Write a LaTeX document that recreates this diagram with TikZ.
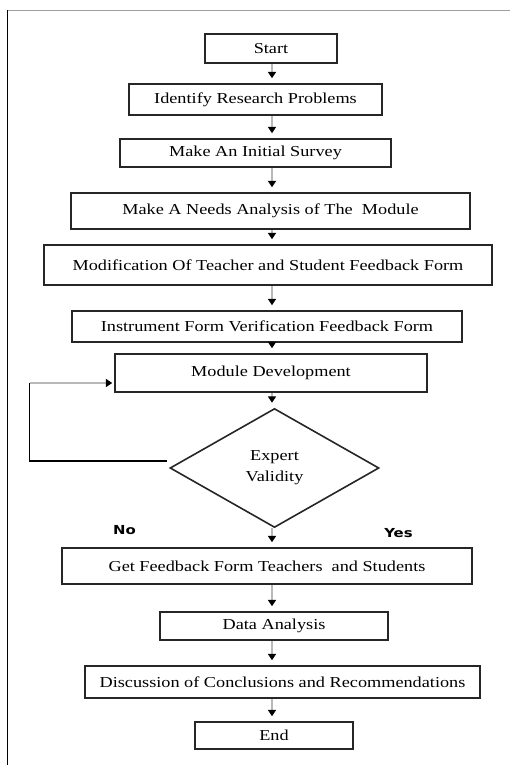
\documentclass[tikz,border=0pt]{standalone}
\usepackage{fontspec}
\setmainfont[FakeStretch=1.2]{Liberation Serif}
\newfontfamily\answerfont[FakeStretch=1.2]{DejaVu Sans}
\usetikzlibrary{shapes.geometric, arrows.meta, calc}

\begin{document}
\begin{tikzpicture}[x=0.5pt, y=-0.5pt,
    stepbox/.style={draw=black!85, line width=0.8pt, inner sep=0pt, font=\fontsize{7.6}{9}\selectfont},
    flow/.style={draw=gray!55, line width=0.8pt, -{Triangle[width=4pt, length=3.2pt, color=black]}, shorten >=2.5pt},
    answer/.style={font=\answerfont\bfseries\fontsize{6.2}{7}\selectfont}]
    \useasboundingbox (0,0) rectangle (510,765);

    % frame
    \draw[gray!75, line width=0.9pt] (7.5,10.5) -- (510,10.5);
    \draw[line width=0.9pt] (7.5,10.5) -- (7.5,765);

    % steps
    \node[stepbox, minimum width=66pt, minimum height=14.5pt] (start) at (271,48.5) {Start};
    \node[stepbox, minimum width=126.5pt, minimum height=15.5pt] (ident) at (255.5,99.5) {Identify Research Problems};
    \node[stepbox, minimum width=135.5pt, minimum height=14pt] (survey) at (255.5,153) {Make An Initial Survey};
    \node[stepbox, minimum width=199.5pt, minimum height=18pt] (needs) at (270.5,211) {Make A Needs Analysis of The~ Module};
    \node[stepbox, minimum width=224pt, minimum height=20pt] (modify) at (268,265) {Modification Of Teacher and Student Feedback Form};
    \node[stepbox, minimum width=195pt, minimum height=15.5pt] (instr) at (267,326.5) {Instrument Form Verification Feedback Form};
    \node[stepbox, minimum width=156pt, minimum height=19pt] (dev) at (271,373) {Module Development};

    % decision
    \node[stepbox, diamond, minimum width=104.5pt, minimum height=59.5pt, align=center,
          font=\fontsize{7.6}{10.5}\selectfont] (valid) at (274.5,468) {Expert\\Validity};
    \node[answer] (no) at (124.5,530.5) {No};
    \node[answer] (yes) at (398.5,533) {Yes};

    \node[stepbox, minimum width=205pt, minimum height=18pt] (getfb) at (267,566) {Get Feedback Form Teachers~ and Students};
    \node[stepbox, minimum width=114pt, minimum height=14pt] (data) at (274,626) {Data Analysis};
    \node[stepbox, minimum width=197.5pt, minimum height=16pt] (discuss) at (282.5,682) {Discussion of Conclusions and Recommendations};
    \node[stepbox, minimum width=79pt, minimum height=13.5pt] (finish) at (274,735.5) {End};

    % arrows down the middle
    \coordinate (axis) at (272,0);
    \foreach \a/\b in {start/ident, ident/survey, survey/needs, needs/modify, modify/instr,
                       instr/dev, dev/valid, valid/getfb, getfb/data, data/discuss, discuss/finish}
        \draw[flow] (\a.south -| axis) -- (\b.north -| axis);

    % loop back to development
    \coordinate (rail) at (29.5,0);
    \coordinate (back) at ($(valid.west)+(-2,-7)$);
    \coordinate (entry) at ($(dev.west)+(0,10)$);
    \draw[line width=0.8pt] (back) -- (back -| rail) -- (rail |- entry);
    \draw[flow, shorten >=1pt] (rail |- entry) -- (entry);
\end{tikzpicture}
\end{document}
